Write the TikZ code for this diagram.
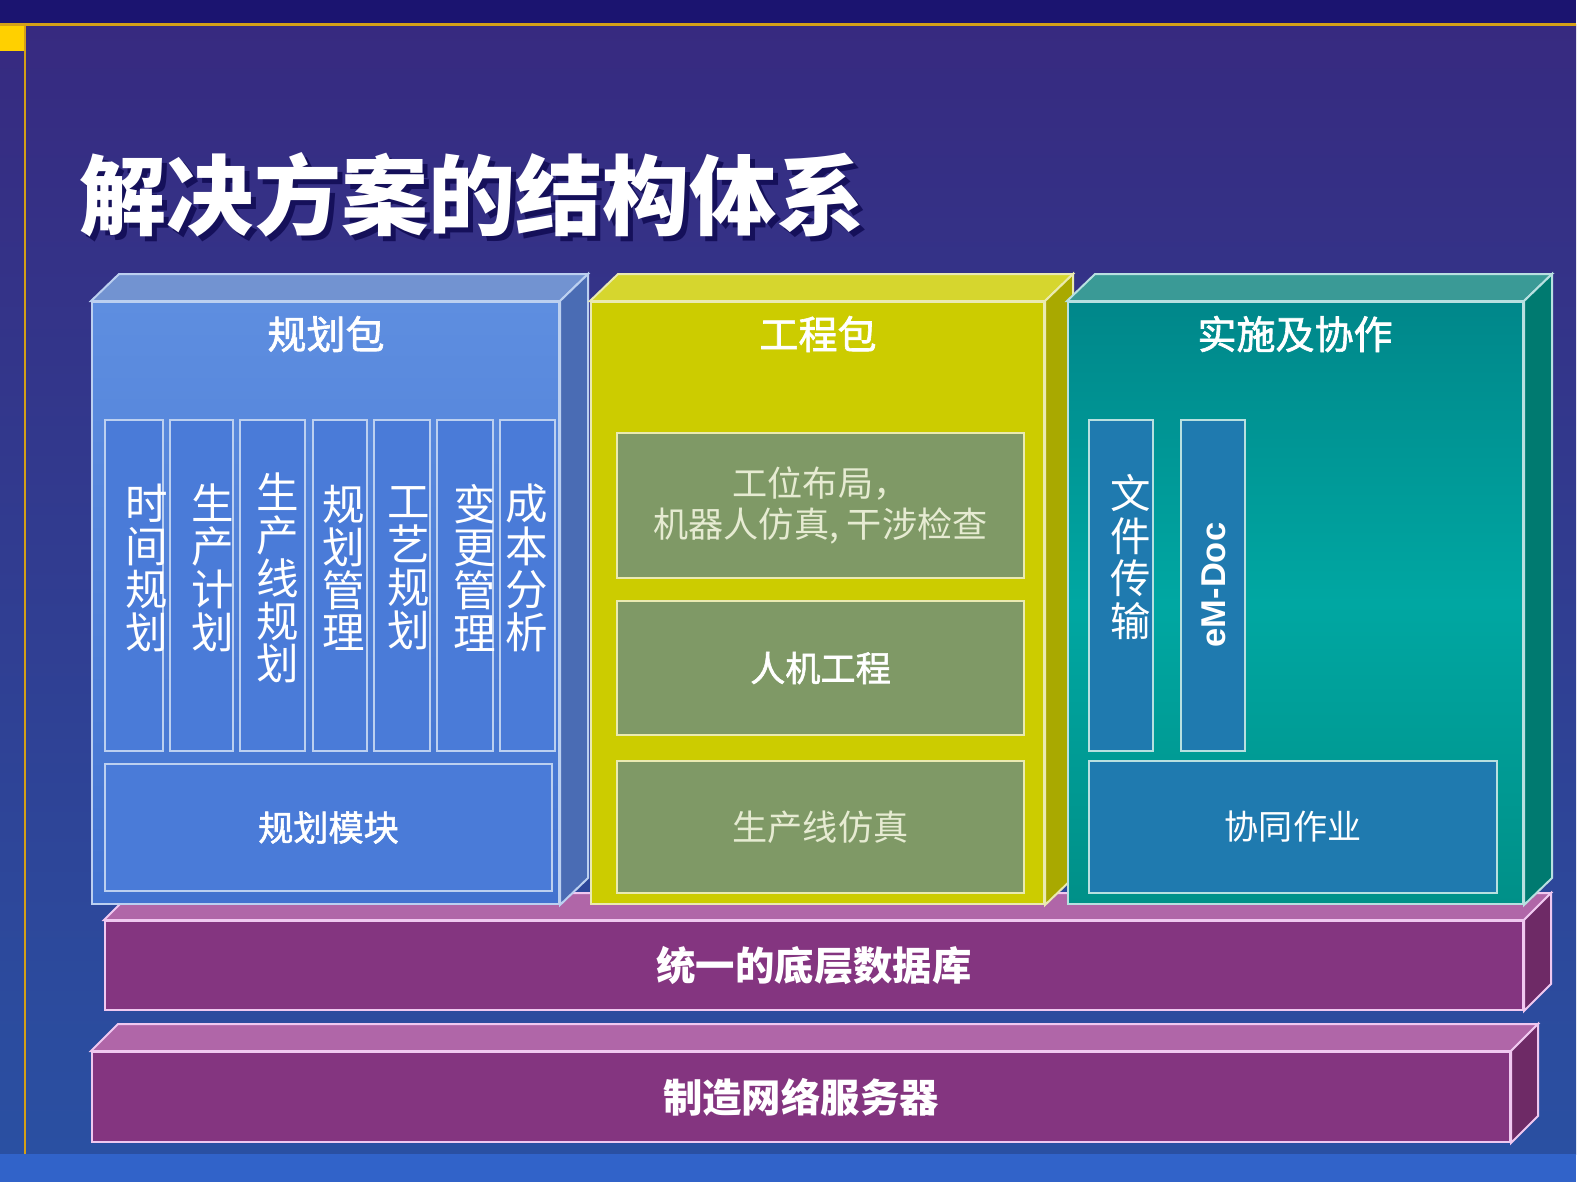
\documentclass[tikz,border=0pt]{standalone}
\usepackage{fontspec}
\setmainfont{Noto Sans CJK SC}
\newfontfamily\medium{Noto Sans CJK SC}[FakeBold=1.6]
\newfontfamily\arial{Liberation Sans}

\definecolor{navy}{HTML}{1B1470}
\definecolor{gold}{HTML}{D4A017}
\definecolor{sun}{HTML}{FFD000}
\definecolor{bgtop}{HTML}{372A80}
\definecolor{bgbot}{HTML}{2A50A2}
\definecolor{stripe}{HTML}{3163C9}
\definecolor{shade}{HTML}{15105A}
\definecolor{planA}{HTML}{5E8EE0}
\definecolor{planB}{HTML}{4272CF}
\definecolor{plantop}{HTML}{7293D1}
\definecolor{planside}{HTML}{4A6CB4}
\definecolor{plancol}{HTML}{4A7BD8}
\definecolor{planedge}{HTML}{BCD0F0}
\definecolor{engfront}{HTML}{CCCC00}
\definecolor{engtop}{HTML}{D6D62E}
\definecolor{engside}{HTML}{A9A900}
\definecolor{engsub}{HTML}{7F9966}
\definecolor{engedge}{HTML}{EAEAB0}
\definecolor{cream}{HTML}{E6EBD2}
\definecolor{implA}{HTML}{00878A}
\definecolor{implB}{HTML}{00A7A2}
\definecolor{implC}{HTML}{009088}
\definecolor{impltop}{HTML}{3A9A96}
\definecolor{implside}{HTML}{007A70}
\definecolor{implcol}{HTML}{1F7AAF}
\definecolor{impledge}{HTML}{B8E0E0}
\definecolor{layfront}{HTML}{843580}
\definecolor{laytop}{HTML}{B066A8}
\definecolor{layside}{HTML}{6E2A66}
\definecolor{layedge}{HTML}{F0C8F0}

\begin{document}
\begin{tikzpicture}[x=0.1mm,y=-0.1mm]
   \tikzstyle{every node}=[inner sep=0pt]
   \tikzstyle{face}=[line width=0.2mm]
   \tikzstyle{head}=[text=white,font=\medium\fontsize{11.1pt}{13pt}\selectfont]
   \tikzstyle{vtext}=[text=white,align=center,font=\fontsize{12.1pt}{12.2pt}\selectfont]
   \tikzstyle{col}=[face,minimum height=33.1mm]
\useasboundingbox (0,0) rectangle (1587,1182);

% background
\fill[white] (0,0) rectangle (1587,1182);
\fill[top color=bgtop,bottom color=bgbot] (0,24) rectangle (1576,1154);
\fill[navy] (0,0) rectangle (1576,23);
\fill[stripe] (0,1154) rectangle (1576,1182);
\draw[gold,line width=0.3mm] (0,24) -- (1576,24);
\draw[gold,line width=0.25mm] (25,24) -- (25,1154);
\fill[sun] (0,26) rectangle (24,51);

% title
\node[text=shade,font=\fontsize{24.8pt}{26pt}\selectfont\bfseries] (titleshadow) at (477,200) {解决方案的结构体系};
\node[text=white,font=\fontsize{24.8pt}{26pt}\selectfont\bfseries] (title) at (472,195) {解决方案的结构体系};

% server layer
\node[face,draw=layedge,fill=layfront,minimum width=141.8mm,minimum height=9mm] (srv) at (801,1097) {};
\draw[face,draw=layedge,fill=laytop] (srv.north west) -- ++(27,-27) -- ([shift={(27,-27)}]srv.north east) -- (srv.north east) -- cycle;
\draw[face,draw=layedge,fill=layside] (srv.north east) -- ++(27,-27) -- ([shift={(27,-27)}]srv.south east) -- (srv.south east) -- cycle;
\node[text=white,font=\fontsize{11.2pt}{13pt}\selectfont\bfseries] (srvt) at (srv) {制造网络服务器};

% database layer
\node[face,draw=layedge,fill=layfront,minimum width=141.8mm,minimum height=8.9mm] (db) at (814,965.5) {};
\draw[face,draw=layedge,fill=laytop] (db.north west) -- ++(27,-27) -- ([shift={(27,-27)}]db.north east) -- (db.north east) -- cycle;
\draw[face,draw=layedge,fill=layside] (db.north east) -- ++(27,-27) -- ([shift={(27,-27)}]db.south east) -- (db.south east) -- cycle;
\node[text=white,font=\fontsize{11.2pt}{13pt}\selectfont\bfseries] (dbt) at (db) {统一的底层数据库};

% planning package
\node[face,draw=planedge,top color=planA,bottom color=planB,minimum width=46.7mm,minimum height=60.2mm] (plan) at (325.5,603) {};
\draw[face,draw=planedge,fill=plantop] (plan.north west) -- ++(28,-27) -- ([shift={(28,-27)}]plan.north east) -- (plan.north east) -- cycle;
\draw[face,draw=planedge,fill=planside] (plan.north east) -- ++(28,-27) -- ([shift={(28,-27)}]plan.south east) -- (plan.south east) -- cycle;
\node[head] (plant) at (326,334) {规划包};

\tikzstyle{col}=[face,draw=planedge,fill=plancol,minimum height=33.1mm]
\node[col,minimum width=5.8mm] (p1) at (134,585.5) {};
\node[col,minimum width=6.3mm] (p2) at (201.5,585.5) {};
\node[col,minimum width=6.5mm] (p3) at (272.5,585.5) {};
\node[col,minimum width=5.4mm] (p4) at (340,585.5) {};
\node[col,minimum width=5.6mm] (p5) at (402,585.5) {};
\node[col,minimum width=5.6mm] (p6) at (465,585.5) {};
\node[col,minimum width=5.5mm] (p7) at (527.5,585.5) {};
\node[vtext] (p1t) at (147,568) {时\\间\\规\\划};
\node[vtext] (p2t) at (213,568) {生\\产\\计\\划};
\node[vtext] (p3t) at (278,578) {生\\产\\线\\规\\划};
\node[vtext] (p4t) at (344,568) {规\\划\\管\\理};
\node[vtext] (p5t) at (409,568) {工\\艺\\规\\划};
\node[vtext] (p6t) at (475,568) {变\\更\\管\\理};
\node[vtext] (p7t) at (527,568) {成\\本\\分\\析};
\node[face,draw=planedge,fill=plancol,minimum width=44.7mm,minimum height=12.7mm,
      text=white,font=\medium\fontsize{10pt}{12pt}\selectfont] (module) at (328.5,827.5) {规划模块};

% engineering package
\node[face,draw=engedge,fill=engfront,minimum width=45.3mm,minimum height=60.2mm] (eng) at (817.5,603) {};
\draw[face,draw=engedge,fill=engtop] (eng.north west) -- ++(28,-27) -- ([shift={(28,-27)}]eng.north east) -- (eng.north east) -- cycle;
\draw[face,draw=engedge,fill=engside] (eng.north east) -- ++(28,-27) -- ([shift={(28,-27)}]eng.south east) -- (eng.south east) -- cycle;
\node[head] (engt) at (818,334) {工程包};

\tikzstyle{sub}=[face,draw=engedge,fill=engsub,minimum width=40.7mm,text=cream,align=center,font=\fontsize{10pt}{11.7pt}\selectfont]
\node[sub,minimum height=14.5mm] (layout) at (820.5,505.5) {工位布局，\\机器人仿真, 干涉检查};
\node[sub,minimum height=13.4mm,text=white,font=\medium\fontsize{10pt}{12pt}\selectfont] (ergo) at (820.5,668) {人机工程};
\node[sub,minimum height=13.2mm] (linesim) at (820.5,827) {生产线仿真};

% implementation and collaboration
\node[face,draw=impledge,top color=implA,bottom color=implC,middle color=implB,minimum width=45.5mm,minimum height=60.2mm] (impl) at (1295.5,603) {};
\draw[face,draw=impledge,fill=impltop] (impl.north west) -- ++(28,-27) -- ([shift={(28,-27)}]impl.north east) -- (impl.north east) -- cycle;
\draw[face,draw=impledge,fill=implside] (impl.north east) -- ++(28,-27) -- ([shift={(28,-27)}]impl.south east) -- (impl.south east) -- cycle;
\node[head] (implt) at (1295,334) {实施及协作};

\tikzstyle{col}=[face,draw=impledge,fill=implcol,minimum height=33.1mm]
\node[col,minimum width=6.4mm] (i1) at (1121,585.5) {};
\node[col,minimum width=6.4mm] (i2) at (1213,585.5) {};
\node[vtext,font=\fontsize{11.5pt}{12.2pt}\selectfont] (i1t) at (1131,557) {文\\件\\传\\输};
\node[text=white,rotate=90,font=\arial\fontsize{9.8pt}{12pt}\selectfont\bfseries] (i2t) at (1214,585) {eM-Doc};
\node[face,draw=impledge,fill=implcol,minimum width=40.8mm,minimum height=13.2mm,
      text=white,font=\fontsize{9.7pt}{12pt}\selectfont] (collab) at (1293,827) {协同作业};

\end{tikzpicture}
\end{document}
